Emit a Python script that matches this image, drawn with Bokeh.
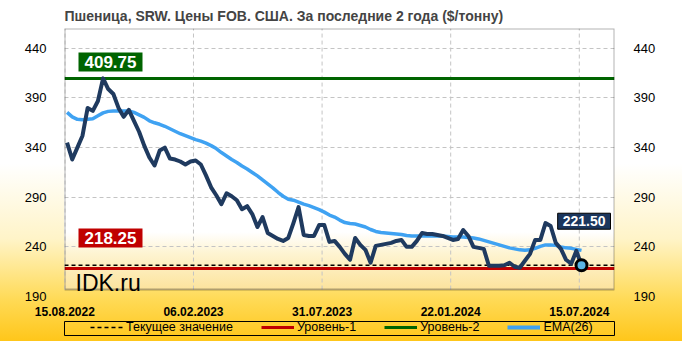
from datetime import datetime, timedelta
from bokeh.plotting import figure
from bokeh.layouts import column
from bokeh.models import (FixedTicker, DatetimeTickFormatter, LinearAxis, Range1d,
                          Label, Legend, LegendItem, BoxAnnotation)
from bokeh.embed import file_html
from bokeh.resources import INLINE

# ---------------- data ----------------
title_text = "Пшеница,  SRW. Цены FOB.  США. За последние 2 года ($/тонну)"
first_date = datetime(2022, 8, 18)
price = [345, 328, 340, 352, 380, 377, 387, 409.75, 399, 394,
         380, 371, 378, 367, 356, 342, 330, 322, 337, 340,
         329, 328, 326, 323, 326, 327, 323, 312, 300, 292,
         283, 294, 291, 287, 278, 281, 273, 260, 270, 254,
         251, 248, 246, 249, 264, 280, 252, 251, 251, 262,
         262, 245, 246, 240, 233, 227, 249, 242, 237, 224,
         241, 242, 243, 244, 246, 247, 240, 240, 246, 254,
         253, 253, 252, 251, 249, 247, 248, 257, 251, 240,
         239, 238, 221, 221, 221, 221.5, 224, 220, 219, 226,
         233, 247, 247, 264, 261, 244, 238, 227, 223, 236,
         221.5]
ema26 = [375.5, 371, 368.5, 368, 368.5, 369, 372, 375, 376.5, 377,
         377, 377, 377, 375.5, 373, 370.5, 367, 365, 363.5, 361.5,
         359, 356.5, 354, 352, 350, 348, 346.5, 344.5, 342, 339,
         335, 331.5, 328, 325, 321.5, 318.5, 315, 311.5, 307.5, 303.5,
         299.5, 295, 291, 288, 287, 285, 283, 281.5, 279.5, 277.5,
         275, 272, 270, 267, 264.5, 263.5, 263, 261.5, 260, 257.5,
         255.5, 254.5, 254, 253.5, 253, 252.5, 251.5, 251, 251, 251,
         251, 251, 251, 251, 250.5, 250, 250, 250, 249.5, 249,
         248, 246.5, 245, 243.5, 242, 240.5, 239, 238, 237, 236.5,
         237, 238.5, 240.5, 242, 242, 241.5, 240, 239, 238.5, 237.5,
         236.5]
level1 = 218.25
level2 = 409.75
current_value = 221.50
y_tick_values = [190, 240, 290, 340, 390, 440]
x_tick_labels = ["15.08.2022", "06.02.2023", "31.07.2023", "22.01.2024", "15.07.2024"]
legend_labels = ["Текущее значение", "Уровень-1", "Уровень-2", "EMA(26)"]

dates = [first_date + timedelta(weeks=i) for i in range(len(price))]
x_ticks = [datetime.strptime(s, "%d.%m.%Y").timestamp() * 1000 for s in x_tick_labels]
x_tick_dates = [datetime.strptime(s, "%d.%m.%Y") for s in x_tick_labels]

# ---------------- styling ----------------
FONT = "Liberation Sans"
x_start = datetime(2022, 8, 14, 12)
x_end = x_start + timedelta(days=748.4)
box_bottom = 197   # visible bottom edge of the plot box
y_top = 460

C_PRICE = "#1F3A5F"
C_EMA = "#3FA2F2"
C_L1 = "#C00000"
C_L2 = "#006400"

p = figure(width=682, height=318, x_axis_type="datetime",
           x_range=Range1d(x_start, x_end), y_range=Range1d(190, y_top),
           output_backend="svg", toolbar_location=None,
           min_border_left=64, min_border_right=68, min_border_top=27, min_border_bottom=21)
p.border_fill_color = None
p.background_fill_color = None
p.outline_line_color = None

p.title.text = title_text
p.title.text_font = FONT
p.title.text_font_size = "14px"
p.title.text_font_style = "bold"
p.title.align = "left"
p.title.offset = 0

# axes
p.xaxis.ticker = FixedTicker(ticks=x_ticks)
fmt = "%d.%m.%Y"
p.xaxis.formatter = DatetimeTickFormatter(days=fmt, months=fmt, years=fmt, hours=fmt,
                                          minutes=fmt, seconds=fmt, milliseconds=fmt,
                                          microseconds=fmt, hourmin=fmt, minsec=fmt)
p.xaxis.major_label_text_font = FONT
p.xaxis.major_label_text_font_size = "12px"
p.xaxis.major_label_text_font_style = "bold"
p.xaxis.major_label_standoff = 4

p.yaxis.ticker = FixedTicker(ticks=y_tick_values)
p.yaxis.major_label_standoff = 12
right_axis = LinearAxis(ticker=FixedTicker(ticks=y_tick_values), major_label_standoff=13)
p.add_layout(right_axis, "right")

for ax in p.xaxis + p.yaxis:
    ax.axis_line_color = None
    ax.major_tick_line_color = None
    ax.minor_tick_line_color = None
    ax.major_label_text_color = "black"
for ax in p.yaxis:
    ax.major_label_text_font = FONT
    ax.major_label_text_font_size = "13px"

# grid
p.xgrid.visible = False
p.ygrid.ticker = FixedTicker(ticks=y_tick_values[1:])
p.ygrid.grid_line_color = "#C4C4C4"
p.ygrid.grid_line_dash = "4 3"
p.ygrid.grid_line_width = 1
p.segment(x0=x_tick_dates, x1=x_tick_dates,
          y0=[box_bottom] * len(x_tick_dates), y1=[y_top] * len(x_tick_dates),
          line_color="#C4C4C4", line_dash="4 3", line_width=1)

# plot box border
p.add_layout(BoxAnnotation(bottom=box_bottom, fill_alpha=0, line_color="black", line_width=2,
                           level="overlay"))

# lines
xr = [x_start, x_end]
p.line(xr, [current_value, current_value], line_color="black", line_width=1.3, line_dash="4 3")
p.line(xr, [level1, level1], line_color=C_L1, line_width=3)
p.line(xr, [level2, level2], line_color=C_L2, line_width=3)
p.line(dates, ema26, line_color=C_EMA, line_width=3.5)
p.line(dates, price, line_color=C_PRICE, line_width=4, line_join="round")
p.scatter([dates[-1]], [price[-1]], size=11, fill_color="#5AB4E5", line_color="black", line_width=3)

# value labels
p.add_layout(Label(x=14, x_units="screen", y=level2, y_units="data", y_offset=7,
                   text=f"{level2:.2f}", text_font=FONT, text_font_size="17px", text_font_style="bold",
                   text_color="white", text_baseline="bottom", text_align="left",
                   background_fill_color=C_L2, padding=(6, 6, 4, 3)))
p.add_layout(Label(x=14, x_units="screen", y=level1, y_units="data", y_offset=21,
                   text=f"{level1:.2f}", text_font=FONT, text_font_size="17px", text_font_style="bold",
                   text_color="white", text_baseline="bottom", text_align="left",
                   background_fill_color=C_L1, padding=(6, 6, 4, 3)))
p.add_layout(Label(x=546, x_units="screen", y=current_value, y_units="data", y_offset=36,
                   text=f"{current_value:.2f}", text_font=FONT, text_font_size="14px", text_font_style="bold",
                   text_color="white", text_baseline="bottom", text_align="right",
                   background_fill_color="#1B365D", border_line_color="black", border_line_width=1,
                   padding=(5, 5, 3, 3)))
p.add_layout(Label(x=11, x_units="screen", y=14, y_units="screen", text="IDK.ru",
                   text_font=FONT, text_font_size="23px", text_color="black",
                   text_baseline="alphabetic", text_align="left"))

# ---------------- legend strip ----------------
p2 = figure(width=682, height=23, x_range=Range1d(0, 1), y_range=Range1d(0, 1),
            output_backend="svg", toolbar_location=None,
            x_axis_location=None, y_axis_location=None,
            min_border_left=64, min_border_right=67, min_border_top=3, min_border_bottom=6)
p2.border_fill_color = None
p2.background_fill_color = None
p2.outline_line_color = "black"
p2.outline_line_width = 1
p2.grid.visible = False

# sample glyphs for the legend only (placed outside the visible range)
sample_x = [-3, -2]
sample_y = [-3, -3]
g_cur = p2.line(sample_x, sample_y, line_color="black", line_width=1.3, line_dash="4 3")
g_l1 = p2.line(sample_x, sample_y, line_color=C_L1, line_width=3)
g_l2 = p2.line(sample_x, sample_y, line_color=C_L2, line_width=3)
g_ema = p2.line(sample_x, sample_y, line_color=C_EMA, line_width=4)

legend = Legend(items=[LegendItem(label=legend_labels[0], renderers=[g_cur]),
                       LegendItem(label=legend_labels[1], renderers=[g_l1]),
                       LegendItem(label=legend_labels[2], renderers=[g_l2]),
                       LegendItem(label=legend_labels[3], renderers=[g_ema])],
                orientation="horizontal", location=(26, 1),
                border_line_alpha=0, background_fill_alpha=0,
                glyph_width=33, glyph_height=12, label_height=12, label_standoff=3,
                spacing=28, padding=0, margin=0,
                label_text_font=FONT, label_text_font_size="12.5px", label_text_color="black")
p2.add_layout(legend, "center")

layout = column(p, p2, spacing=0)
layout.styles = {
    "background": "linear-gradient(to bottom, #FFFFFF 0%, #FFFFFF 78%, #FEF4D2 86%, #FCE39C 100%) 64px 27px / 550px 263px no-repeat, "
                  "linear-gradient(to bottom, #FFFFFF 0%, #FFFFFF 48%, #FFF4C8 70%, #FFDA55 88%, #FFC61A 100%)"
}

open("out.html", "w").write(file_html(layout, INLINE))
